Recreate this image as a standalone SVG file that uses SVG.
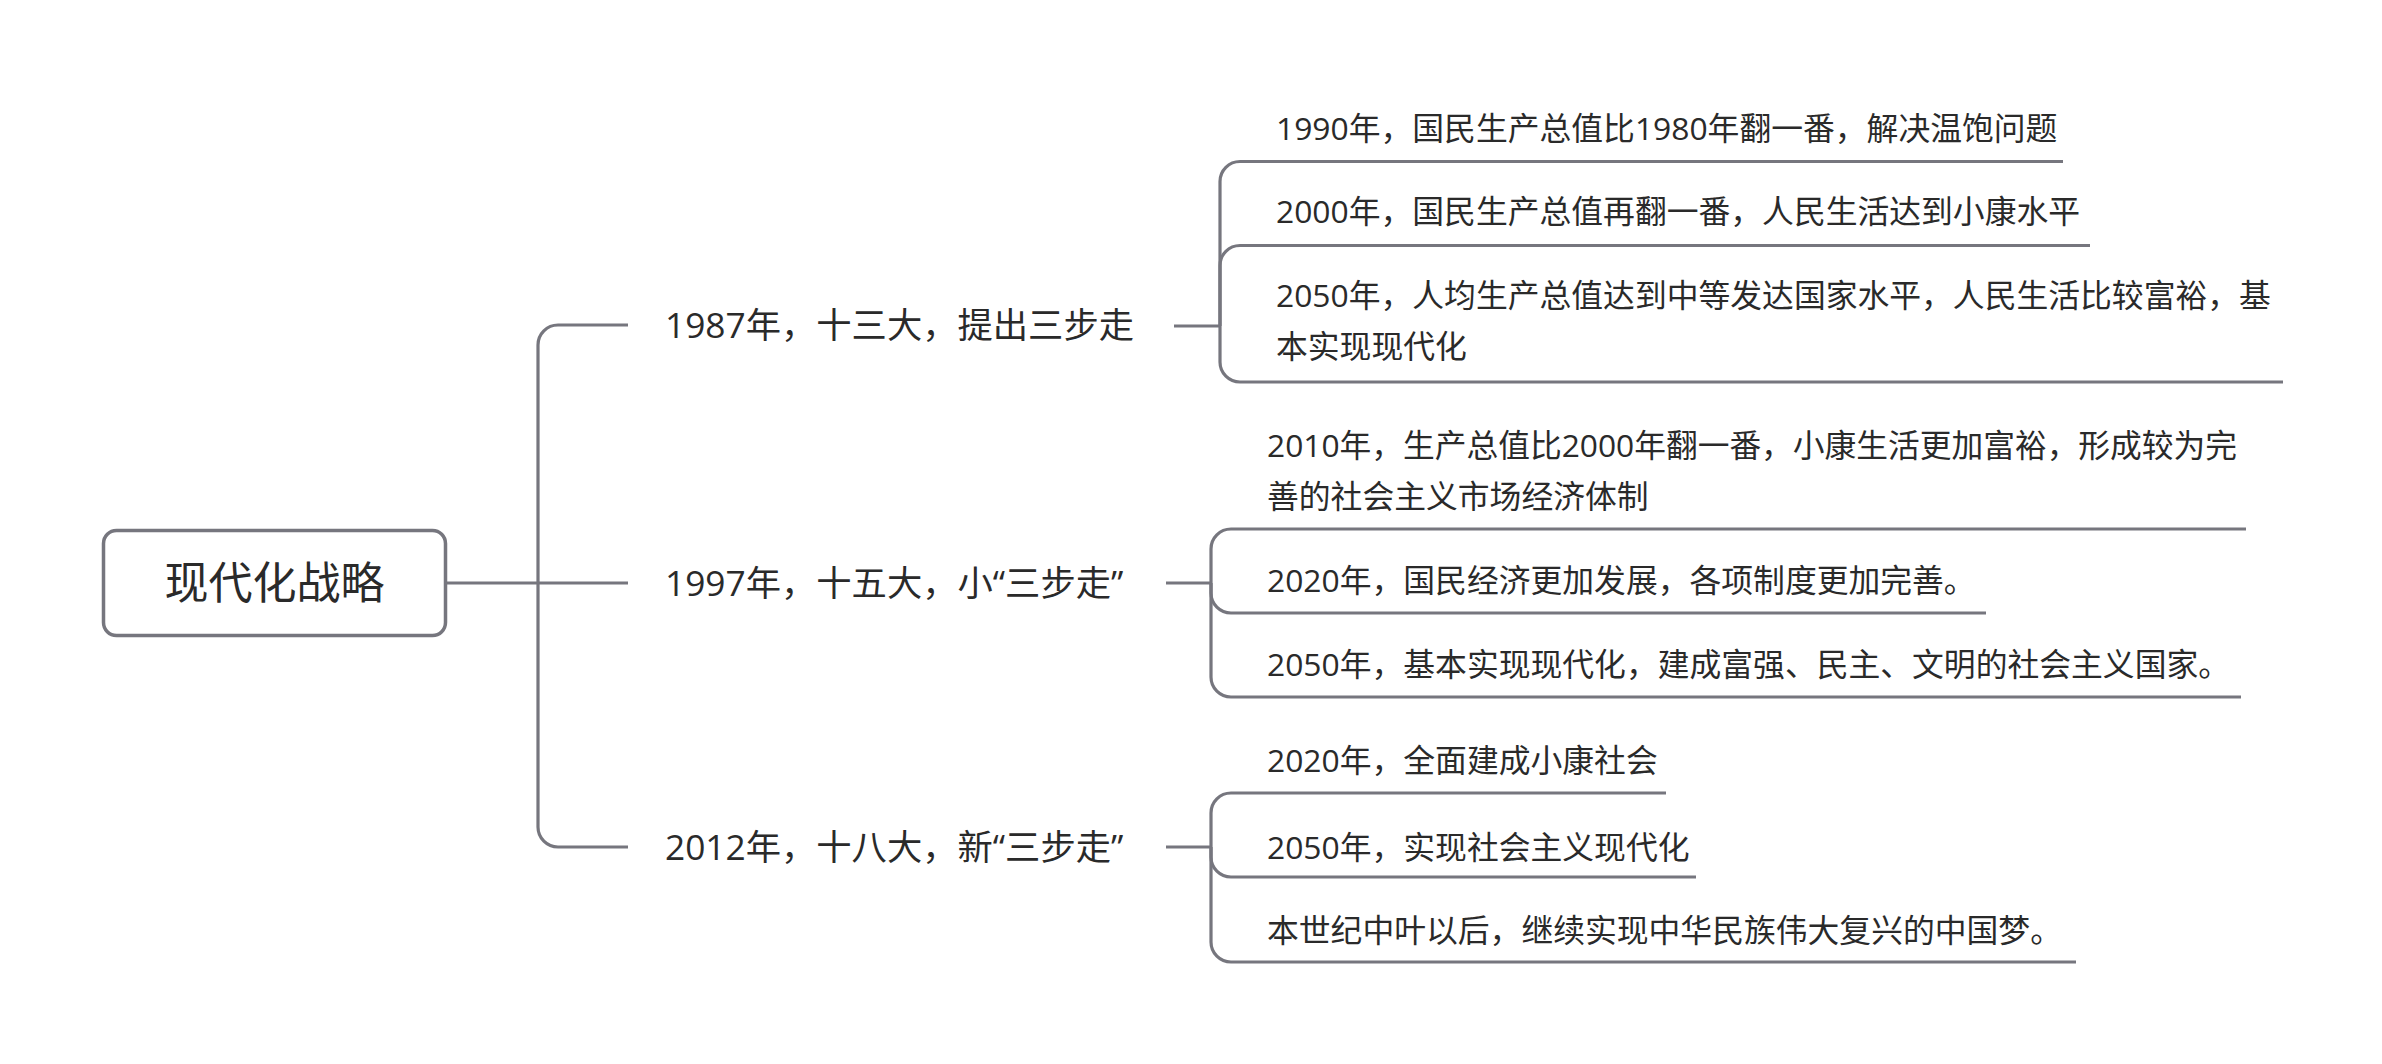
<svg xmlns="http://www.w3.org/2000/svg" width="2382" height="1064" viewBox="0 0 2382 1064">
  <style>
    .bg { fill: #ffffff; }
    .link { fill: none; stroke: #76767e; stroke-width: 3.2; stroke-linecap: butt; }
    .rootbox { fill: #ffffff; stroke: #76767e; stroke-width: 3.5; }
    text { font-family: "Open Sans", "Noto Sans CJK SC", "Noto Sans", sans-serif; fill: #2a2a2a; }
    .root { font-size: 44px; text-anchor: middle; }
    .branch { font-size: 35.3px; }
    .leaf { font-size: 31.8px; }
  </style>
  <rect class="bg" x="0" y="0" width="2382" height="1064"/>

  <!-- connectors -->
  <g id="connectors">
    <!-- root to trunk -->
    <path class="link" d="M447 583 H538"/>
    <path class="link" d="M538 583 V345 A20 20 0 0 1 558 325 H628"/>
    <path class="link" d="M538 583 H628"/>
    <path class="link" d="M538 583 V827 A20 20 0 0 0 558 847 H628"/>

    <!-- 1987 group -->
    <path class="link" d="M1174 326 H1220"/>
    <path class="link" d="M1220 326 V181.5 A20 20 0 0 1 1240 161.5 H2063"/>
    <path class="link" d="M1220 326 V265.5 A20 20 0 0 1 1240 245.5 H2090"/>
    <path class="link" d="M1220 326 V362 A20 20 0 0 0 1240 382 H2283"/>

    <!-- 1997 group -->
    <path class="link" d="M1166 583 H1211"/>
    <path class="link" d="M1211 583 V549 A20 20 0 0 1 1231 529 H2246"/>
    <path class="link" d="M1211 583 V593 A20 20 0 0 0 1231 613 H1986"/>
    <path class="link" d="M1211 583 V677 A20 20 0 0 0 1231 697 H2241"/>

    <!-- 2012 group -->
    <path class="link" d="M1166 847 H1211"/>
    <path class="link" d="M1211 847 V813 A20 20 0 0 1 1231 793 H1666"/>
    <path class="link" d="M1211 847 V857 A20 20 0 0 0 1231 877 H1696"/>
    <path class="link" d="M1211 847 V942 A20 20 0 0 0 1231 962 H2076"/>
  </g>

  <!-- root -->
  <g id="root">
    <rect class="rootbox" x="103.5" y="530.5" width="342" height="105" rx="13" ry="13"/>
    <text class="root" x="274.5" y="599">现代化战略</text>
  </g>

  <!-- level 1 -->
  <g id="branch-1987">
    <text class="branch" x="665" y="338">1987年，十三大，提出三步走</text>
  </g>
  <g id="branch-1997">
    <text class="branch" x="665" y="596">1997年，十五大，小“三步走”</text>
  </g>
  <g id="branch-2012">
    <text class="branch" x="665" y="860">2012年，十八大，新“三步走”</text>
  </g>

  <!-- 1987 children -->
  <g id="leaf-1990">
    <text class="leaf" x="1276" y="140">1990年，国民生产总值比1980年翻一番，解决温饱问题</text>
  </g>
  <g id="leaf-2000">
    <text class="leaf" x="1276" y="223">2000年，国民生产总值再翻一番，人民生活达到小康水平</text>
  </g>
  <g id="leaf-2050a">
    <text class="leaf" x="1276" y="307">2050年，人均生产总值达到中等发达国家水平，人民生活比较富裕，基</text>
    <text class="leaf" x="1276" y="358">本实现现代化</text>
  </g>

  <!-- 1997 children -->
  <g id="leaf-2010">
    <text class="leaf" x="1267" y="457" textLength="970" lengthAdjust="spacingAndGlyphs">2010年，生产总值比2000年翻一番，小康生活更加富裕，形成较为完</text>
    <text class="leaf" x="1267" y="508">善的社会主义市场经济体制</text>
  </g>
  <g id="leaf-2020a">
    <text class="leaf" x="1267" y="592">2020年，国民经济更加发展，各项制度更加完善。</text>
  </g>
  <g id="leaf-2050b">
    <text class="leaf" x="1267" y="676">2050年，基本实现现代化，建成富强、民主、文明的社会主义国家。</text>
  </g>

  <!-- 2012 children -->
  <g id="leaf-2020b">
    <text class="leaf" x="1267" y="772">2020年，全面建成小康社会</text>
  </g>
  <g id="leaf-2050c">
    <text class="leaf" x="1267" y="859">2050年，实现社会主义现代化</text>
  </g>
  <g id="leaf-future">
    <text class="leaf" x="1267" y="942">本世纪中叶以后，继续实现中华民族伟大复兴的中国梦。</text>
  </g>
</svg>
